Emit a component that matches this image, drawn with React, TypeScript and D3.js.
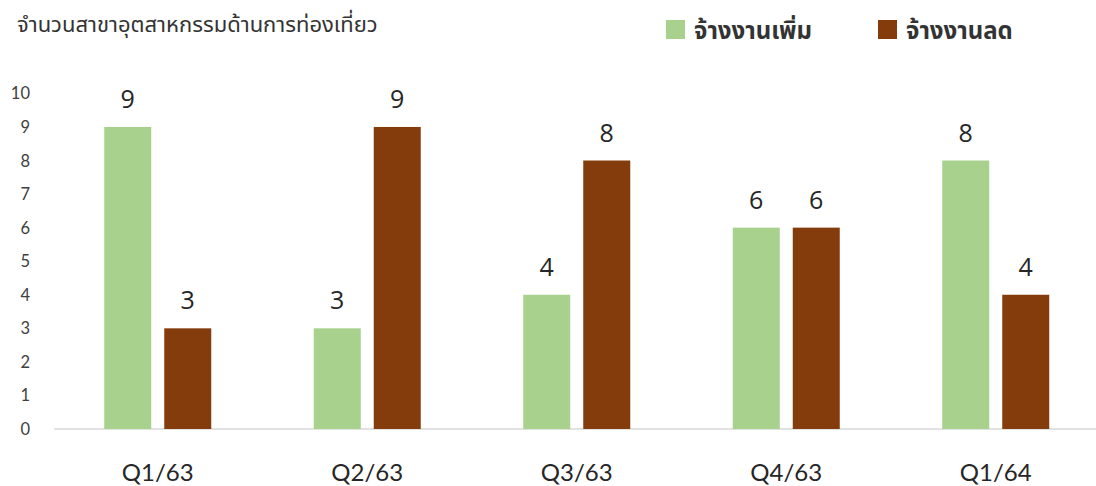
import React from "react";
import * as d3 from "d3";

const categories = ["Q1/63", "Q2/63", "Q3/63", "Q4/63", "Q1/64"];
const increaseValues = [9, 3, 4, 6, 8];
const decreaseValues = [3, 9, 8, 6, 4];
const seriesNames = ["จ้างงานเพิ่ม", "จ้างงานลด"];
const yTicks = [0, 1, 2, 3, 4, 5, 6, 7, 8, 9, 10];
const title = "จำนวนสาขาอุตสาหกรรมด้านการท่องเที่ยว";

const W = 1096;
const H = 486;
const colors = ["#A9D18E", "#843C0C"];

export default function App() {
  const x0 = d3.scaleBand<string>().domain(categories).range([53, 1100.5]).padding(0);
  const y = d3.scaleLinear().domain([0, 10]).range([429, 93.4]);
  const barW = 47;
  const gap = 13;
  const series = [increaseValues, decreaseValues];
  const thaiFont = "'Noto Sans Thai', 'Noto Sans', 'DejaVu Sans', sans-serif";
  const numFont = "Lato, 'Noto Sans', sans-serif";
  const labelFont = "'Open Sans', 'Noto Sans', sans-serif";

  return (
    <svg width={W} height={H} style={{ position: "absolute", left: 0, top: 0 }}>
      <rect width={W} height={H} fill="#fff" />
      <text x={17} y={32} fontSize={22} fill="#333" fontFamily={thaiFont}>{title}</text>
      {seriesNames.map((n, i) => {
        const lx = i === 0 ? 666 : 878;
        return (
          <g key={n}>
            <rect x={lx} y={20} width={19} height={19} fill={colors[i]} />
            <text x={lx + 28} y={39} fontSize={24} fontWeight="bold" fill="#333" fontFamily={thaiFont}>{n}</text>
          </g>
        );
      })}
      {yTicks.map((t) => (
        <text key={t} x={30} y={y(t) + 6} textAnchor="end" fontSize={16.5} fill="#404040" fontFamily={numFont}>{t}</text>
      ))}
      <line x1={54} x2={1096} y1={429} y2={429} stroke="#D9D9D9" strokeWidth={1.5} />
      {categories.map((c, ci) => {
        const cx = (x0(c) as number) + x0.bandwidth() / 2;
        return (
          <g key={c}>
            {series.map((vals, si) => {
              const bx = si === 0 ? cx - gap / 2 - barW : cx + gap / 2;
              const v = vals[ci];
              return (
                <g key={si}>
                  <rect x={bx} y={y(v)} width={barW} height={429 - y(v)} fill={colors[si]} />
                  <text x={bx + barW / 2} y={y(v) - 19} textAnchor="middle" fontSize={25} fontWeight={500} fill="#262626" fontFamily={labelFont}>{v}</text>
                </g>
              );
            })}
            <text x={cx} y={481} textAnchor="middle" fontSize={24} fill="#262626" fontFamily={numFont}>{c}</text>
          </g>
        );
      })}
    </svg>
  );
}
